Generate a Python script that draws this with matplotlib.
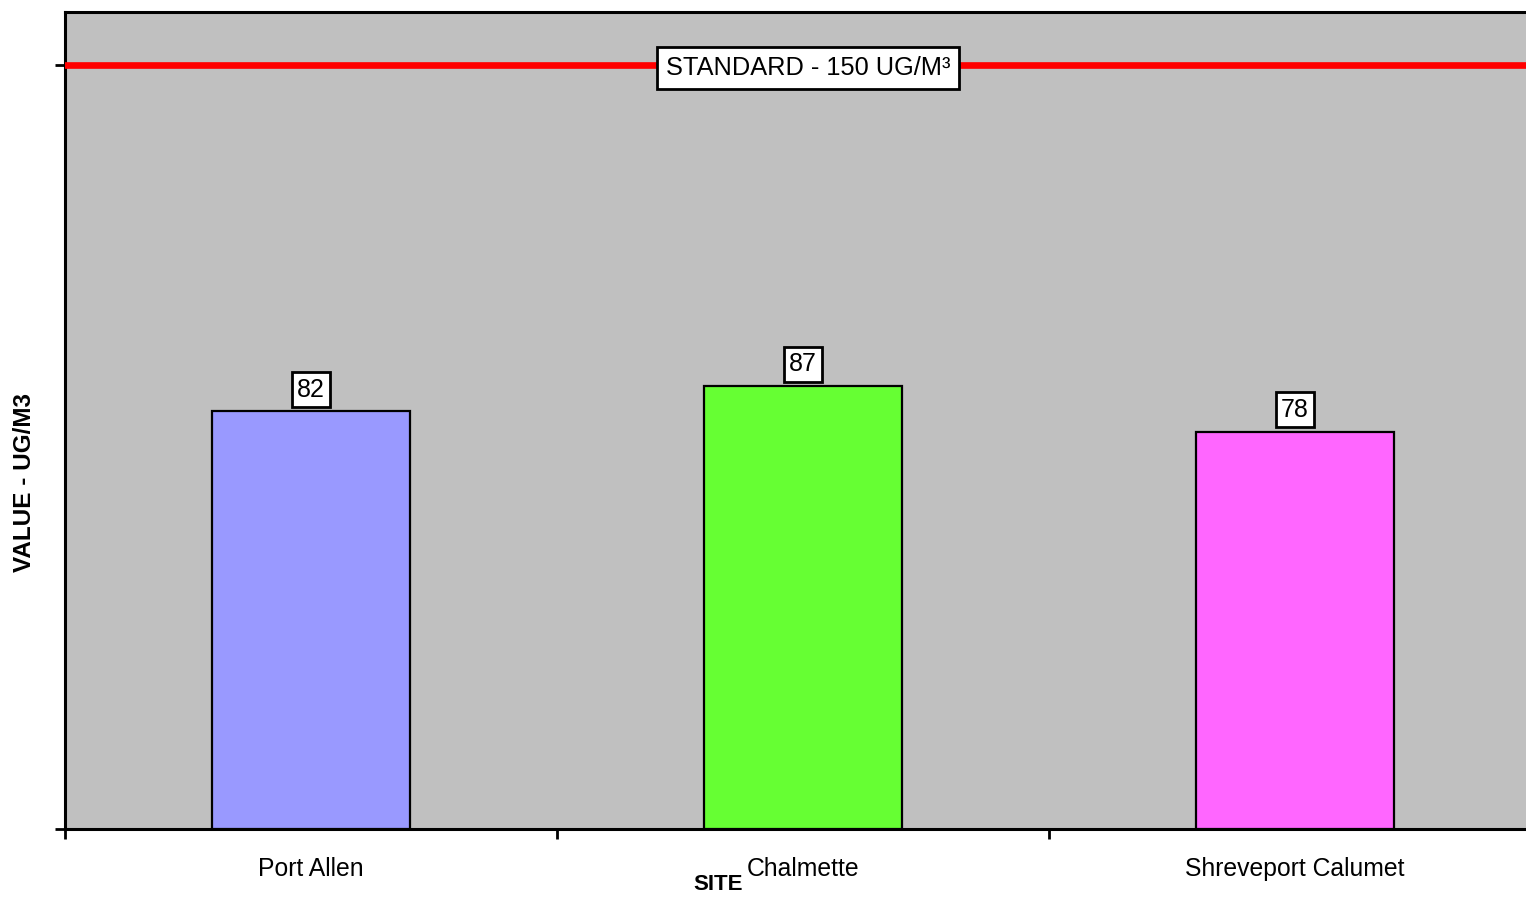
import matplotlib
matplotlib.use("Agg")
import matplotlib.pyplot as plt

sites = ["Port Allen", "Chalmette", "Shreveport Calumet"]
values = [82, 87, 78]
bar_colors = ["#9999FF", "#66FF33", "#FF66FF"]
standard = 150
standard_label = "STANDARD - 150 UG/M³"

plt.rcParams['font.family'] = ['Liberation Sans', 'DejaVu Sans']

fig = plt.figure(figsize=(15.26, 8.98), dpi=100)
ax = fig.add_axes([65/1526, 1-829/898, 1476/1526, (829-12)/898])
ax.set_facecolor("#C0C0C0")

x = list(range(len(sites)))
ax.bar(x, values, width=0.404, color=bar_colors, edgecolor="black", linewidth=1.6, zorder=3)

ax.set_xlim(-0.5, 2.5)
ax.set_ylim(0, 160.4)

ax.axhline(standard, color="#FF0000", linewidth=4.8, zorder=4)
ax.text(1.01, standard - 0.6, standard_label, fontsize=18.3, ha="center", va="center", zorder=5,
        bbox=dict(boxstyle="square,pad=0.35", facecolor="white", edgecolor="black", linewidth=2.0))

for xi, v in zip(x, values):
    ax.annotate(str(v), (xi, v), xytext=(0, 7), textcoords="offset points",
                ha="center", va="bottom", fontsize=18, zorder=5,
                bbox=dict(boxstyle="square,pad=0.22", facecolor="white", edgecolor="black", linewidth=2.0))

ax.set_xticks([-0.5, 0.5, 1.5, 2.5])
ax.set_xticklabels([])
ax.set_xticks(x, minor=True)
ax.set_xticklabels(sites, minor=True, fontsize=17.8)
ax.tick_params(axis="x", which="minor", length=0, pad=20)
ax.tick_params(axis="x", which="major", direction="out", length=7, width=2, color="black")
ax.set_yticks([0, standard])
ax.set_yticklabels([])
ax.tick_params(axis="y", direction="out", length=7, width=2, color="black")

for s in ["left", "bottom", "top", "right"]:
    ax.spines[s].set_linewidth(2.2)
    ax.spines[s].set_color("black")

fig.text(25/1526, 1-483/898, "VALUE - UG/M3", rotation=90, fontsize=17.5, fontweight="bold",
         ha="center", va="center")
fig.text(718/1526, 1-885/898, "SITE", fontsize=16, fontweight="bold", ha="center", va="center")

fig.savefig("out.png", dpi=100)
